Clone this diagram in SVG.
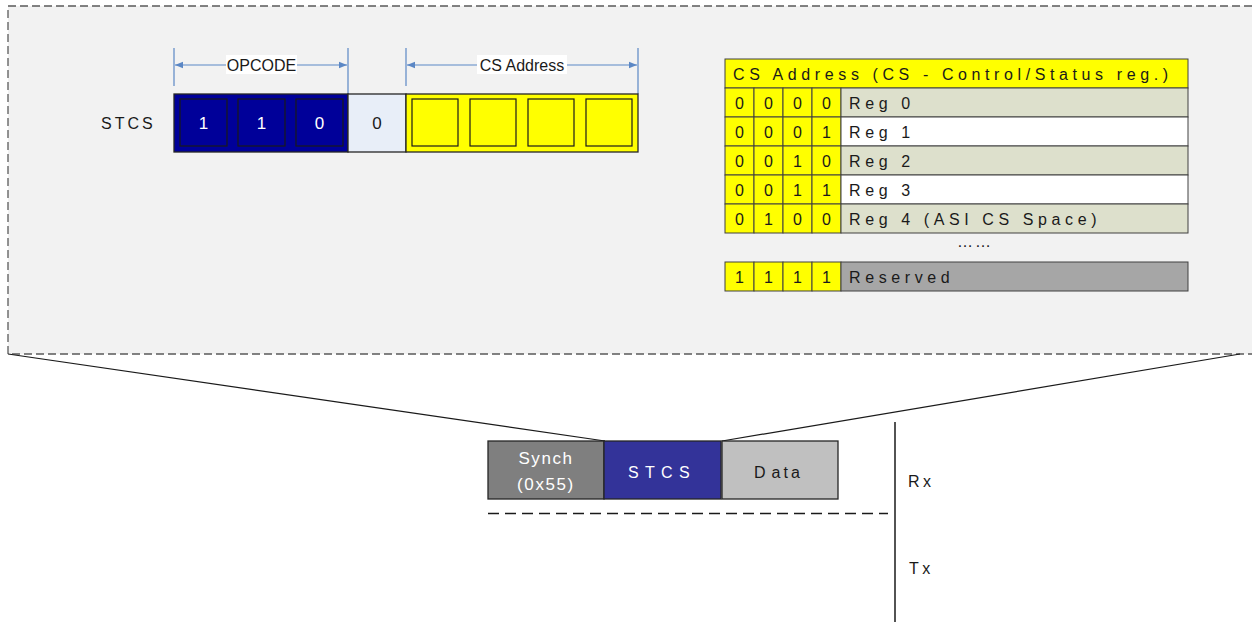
<svg xmlns="http://www.w3.org/2000/svg" width="1252" height="622" viewBox="0 0 1252 622">
<style>
text{font-family:"Liberation Sans",Arial,sans-serif;font-size:16px;fill:#1a1a1a}
.c{text-anchor:middle}
.w{fill:#ffffff}
.sp{letter-spacing:4.6px}
.cell{stroke:#404040;stroke-width:1}
.y{fill:#ffff00}
.g{fill:#dde0cc}
.wh{fill:#ffffff}
.dim{stroke:#5b87c5;stroke-width:1.2;fill:none}
.box{stroke:#262626;stroke-width:1.3}
</style>
<defs>
<marker id="ah" viewBox="0 0 10 10" refX="10" refY="5" markerWidth="8" markerHeight="8" markerUnits="userSpaceOnUse" orient="auto-start-reverse">
<path d="M0,1 L10,5 L0,9 Z" fill="#5b87c5"/>
</marker>
</defs>
<rect x="0" y="0" width="1252" height="622" fill="#ffffff"/>
<g id="panel">
<rect x="8" y="6" width="1260" height="348" fill="#f2f2f2" stroke="#5a5a5a" stroke-width="1.3" stroke-dasharray="8,4"/>
</g>
<g id="connectors">
<line x1="8" y1="354" x2="605" y2="441" stroke="#1a1a1a" stroke-width="1.2"/>
<line x1="722" y1="441" x2="1240" y2="354" stroke="#1a1a1a" stroke-width="1.2"/>
<line x1="488" y1="513.5" x2="888" y2="513.5" stroke="#1a1a1a" stroke-width="1.5" stroke-dasharray="11,6"/>
<line x1="895" y1="422" x2="895" y2="622" stroke="#1a1a1a" stroke-width="1.5"/>
</g>
<g id="dim-opcode">
<line class="dim" x1="174" y1="48" x2="174" y2="86"/>
<line class="dim" x1="348" y1="48" x2="348" y2="94"/>
<line class="dim" x1="175" y1="65" x2="347" y2="65" marker-start="url(#ah)" marker-end="url(#ah)"/>
<rect x="226" y="55" width="71" height="19" fill="#ffffff"/>
<text class="c" x="261.5" y="70.5">OPCODE</text>
</g>
<g id="dim-csaddr">
<line class="dim" x1="406" y1="48" x2="406" y2="86"/>
<line class="dim" x1="638" y1="48" x2="638" y2="94"/>
<line class="dim" x1="407" y1="65" x2="637" y2="65" marker-start="url(#ah)" marker-end="url(#ah)"/>
<rect x="477" y="55" width="90" height="19" fill="#ffffff"/>
<text class="c" x="522" y="70.5">CS Address</text>
</g>
<g id="stcs-label">
<text x="101" y="129" style="letter-spacing:3px">STCS</text>
</g>
<g id="stcs-bar">
<rect x="174" y="94" width="174" height="58" fill="#000099" class="box"/>
<rect x="348" y="94" width="58" height="58" fill="#e8eef8" class="box"/>
<rect x="406" y="94" width="232" height="58" fill="#ffff00" class="box"/>
<rect x="180" y="99" width="47" height="47" fill="#000099" stroke="#1a1a1a" stroke-width="1.2"/>
<rect x="238" y="99" width="47" height="47" fill="#000099" stroke="#1a1a1a" stroke-width="1.2"/>
<rect x="296" y="99" width="47" height="47" fill="#000099" stroke="#1a1a1a" stroke-width="1.2"/>
<text class="c w" x="203.5" y="129" style="font-size:17px">1</text>
<text class="c w" x="261.5" y="129" style="font-size:17px">1</text>
<text class="c w" x="319.5" y="129" style="font-size:17px">0</text>
<text class="c" x="377" y="129" style="font-size:17px">0</text>
<rect x="412" y="99" width="46" height="47" fill="#ffff00" stroke="#1a1a1a" stroke-width="1.2"/>
<rect x="470" y="99" width="46" height="47" fill="#ffff00" stroke="#1a1a1a" stroke-width="1.2"/>
<rect x="528" y="99" width="46" height="47" fill="#ffff00" stroke="#1a1a1a" stroke-width="1.2"/>
<rect x="586" y="99" width="46" height="47" fill="#ffff00" stroke="#1a1a1a" stroke-width="1.2"/>
</g>
<g id="cs-table">
<rect class="cell y" x="725" y="59" width="463" height="29"/>
<text class="sp" x="733" y="80">CS Address (CS - Control/Status reg.)</text>
<g id="row0">
<rect class="cell y" x="725" y="88" width="29" height="29"/><rect class="cell y" x="754" y="88" width="29" height="29"/><rect class="cell y" x="783" y="88" width="29" height="29"/><rect class="cell y" x="812" y="88" width="29" height="29"/>
<rect class="cell g" x="841" y="88" width="347" height="29"/>
<text class="c" x="739.5" y="108.5">0</text><text class="c" x="768.5" y="108.5">0</text><text class="c" x="797.5" y="108.5">0</text><text class="c" x="826.5" y="108.5">0</text>
<text class="sp" x="849" y="108.5">Reg 0</text>
</g>
<g id="row1">
<rect class="cell y" x="725" y="117" width="29" height="29"/><rect class="cell y" x="754" y="117" width="29" height="29"/><rect class="cell y" x="783" y="117" width="29" height="29"/><rect class="cell y" x="812" y="117" width="29" height="29"/>
<rect class="cell wh" x="841" y="117" width="347" height="29"/>
<text class="c" x="739.5" y="137.5">0</text><text class="c" x="768.5" y="137.5">0</text><text class="c" x="797.5" y="137.5">0</text><text class="c" x="826.5" y="137.5">1</text>
<text class="sp" x="849" y="137.5">Reg 1</text>
</g>
<g id="row2">
<rect class="cell y" x="725" y="146" width="29" height="29"/><rect class="cell y" x="754" y="146" width="29" height="29"/><rect class="cell y" x="783" y="146" width="29" height="29"/><rect class="cell y" x="812" y="146" width="29" height="29"/>
<rect class="cell g" x="841" y="146" width="347" height="29"/>
<text class="c" x="739.5" y="166.5">0</text><text class="c" x="768.5" y="166.5">0</text><text class="c" x="797.5" y="166.5">1</text><text class="c" x="826.5" y="166.5">0</text>
<text class="sp" x="849" y="166.5">Reg 2</text>
</g>
<g id="row3">
<rect class="cell y" x="725" y="175" width="29" height="29"/><rect class="cell y" x="754" y="175" width="29" height="29"/><rect class="cell y" x="783" y="175" width="29" height="29"/><rect class="cell y" x="812" y="175" width="29" height="29"/>
<rect class="cell wh" x="841" y="175" width="347" height="29"/>
<text class="c" x="739.5" y="195.5">0</text><text class="c" x="768.5" y="195.5">0</text><text class="c" x="797.5" y="195.5">1</text><text class="c" x="826.5" y="195.5">1</text>
<text class="sp" x="849" y="195.5">Reg 3</text>
</g>
<g id="row4">
<rect class="cell y" x="725" y="204" width="29" height="29"/><rect class="cell y" x="754" y="204" width="29" height="29"/><rect class="cell y" x="783" y="204" width="29" height="29"/><rect class="cell y" x="812" y="204" width="29" height="29"/>
<rect class="cell g" x="841" y="204" width="347" height="29"/>
<text class="c" x="739.5" y="224.5">0</text><text class="c" x="768.5" y="224.5">1</text><text class="c" x="797.5" y="224.5">0</text><text class="c" x="826.5" y="224.5">0</text>
<text class="sp" x="849" y="224.5">Reg 4 (ASI CS Space)</text>
</g>
<text class="c" x="975" y="247" style="letter-spacing:2px">……</text>
<g id="row15">
<rect class="cell y" x="725" y="262" width="29" height="29"/><rect class="cell y" x="754" y="262" width="29" height="29"/><rect class="cell y" x="783" y="262" width="29" height="29"/><rect class="cell y" x="812" y="262" width="29" height="29"/>
<rect class="cell" fill="#a6a6a6" x="841" y="262" width="347" height="29"/>
<text class="c" x="739.5" y="282.5">1</text><text class="c" x="768.5" y="282.5">1</text><text class="c" x="797.5" y="282.5">1</text><text class="c" x="826.5" y="282.5">1</text>
<text class="sp" x="849" y="282.5">Reserved</text>
</g>
</g>
<g id="synch">
<rect x="488" y="441" width="116" height="58" fill="#7f7f7f" class="box"/>
<text class="c w" x="546" y="464" style="font-size:17px;letter-spacing:1.6px">Synch</text>
<text class="c w" x="546" y="490" style="font-size:17px;letter-spacing:1.6px">(0x55)</text>
</g>
<g id="stcs-frame">
<rect x="604" y="441" width="117" height="58" fill="#333399" class="box"/>
<text class="c w" x="662" y="478" style="letter-spacing:6.3px">STCS</text>
</g>
<g id="data">
<rect x="722" y="441" width="116" height="58" fill="#c0c0c0" class="box"/>
<text x="754" y="478" style="letter-spacing:3px">D<tspan dx="3">ata</tspan></text>
</g>
<g id="rx"><text x="908" y="487" style="letter-spacing:3.5px">Rx</text></g>
<g id="tx"><text x="909" y="574" style="letter-spacing:3.5px">Tx</text></g>
</svg>
